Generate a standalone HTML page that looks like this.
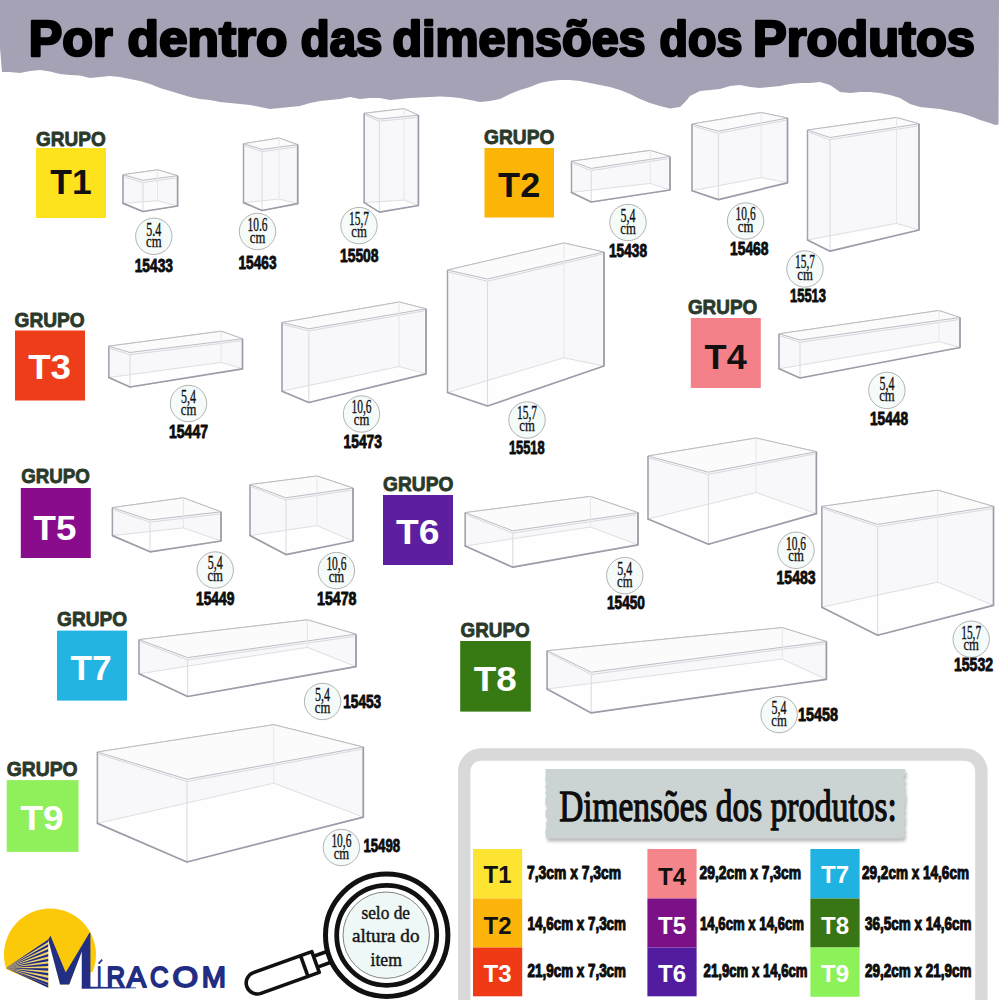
<!DOCTYPE html>
<html><head><meta charset="utf-8"><title>Produtos</title>
<style>
html,body{margin:0;padding:0;background:#fff;width:1000px;height:1000px;overflow:hidden;}
svg{position:absolute;left:0;top:0;display:block;}
</style></head><body>
<svg width="1000" height="1000" viewBox="0 0 1000 1000">
<defs><filter id="blur" x="-10%" y="-10%" width="120%" height="130%"><feGaussianBlur stdDeviation="1.6"/></filter></defs>
<polygon points="0.0,0.0 999.0,0.0 998.5,124.5 995.0,125.0 990.0,123.0 980.0,120.0 970.0,116.0 960.0,113.0 950.0,111.0 940.0,109.0 930.0,108.0 920.0,107.0 910.0,104.0 900.0,98.0 890.0,95.0 880.0,93.0 870.0,92.0 860.0,92.0 850.0,93.0 840.0,92.0 830.0,85.0 820.0,82.0 810.0,83.0 800.0,83.0 790.0,84.0 780.0,86.0 770.0,87.0 760.0,88.0 750.0,87.0 740.0,85.0 730.0,86.0 720.0,89.0 710.0,90.0 700.0,91.0 690.0,96.0 686.0,101.0 680.0,107.0 670.0,108.4 660.0,106.0 650.0,103.0 640.0,99.0 630.0,94.0 620.0,90.0 610.0,87.0 600.0,85.0 590.0,83.0 580.0,81.0 570.0,80.0 560.0,80.0 550.0,81.0 540.0,83.0 530.0,87.0 520.0,90.0 510.0,94.0 500.0,99.0 490.0,101.0 480.0,102.0 470.0,100.0 460.0,98.0 450.0,97.0 440.0,96.4 430.0,97.0 420.0,97.6 410.0,98.0 400.0,99.0 390.0,100.0 380.0,98.0 370.0,98.0 360.0,99.0 350.0,97.0 340.0,99.0 330.0,100.0 320.0,101.0 310.0,103.0 300.0,106.0 290.0,107.0 280.0,108.0 270.0,109.0 260.0,107.0 250.0,105.0 240.0,104.0 230.0,103.0 220.0,102.0 210.0,100.0 200.0,99.0 190.0,97.0 180.0,94.0 170.0,91.0 160.0,88.0 150.0,84.0 140.0,81.0 130.0,79.0 120.0,77.0 110.0,76.0 100.0,77.0 90.0,78.0 80.0,75.6 70.0,75.0 60.0,74.0 50.0,71.6 40.0,70.0 30.0,71.0 20.0,73.0 10.0,72.0 2.0,72.0 0.0,48.0" fill="#a4a2b4"/>
<text x="28.8" y="56.0" font-family='"Liberation Sans", sans-serif' font-size="50.0" font-weight="bold" fill="#000" text-anchor="start" textLength="83.8" lengthAdjust="spacingAndGlyphs" stroke="#000" stroke-width="2.60" stroke-linejoin="round">Por</text>
<text x="127.6" y="56.0" font-family='"Liberation Sans", sans-serif' font-size="50.0" font-weight="bold" fill="#000" text-anchor="start" textLength="159.8" lengthAdjust="spacingAndGlyphs" stroke="#000" stroke-width="2.60" stroke-linejoin="round">dentro</text>
<text x="300.8" y="56.0" font-family='"Liberation Sans", sans-serif' font-size="50.0" font-weight="bold" fill="#000" text-anchor="start" textLength="81.4" lengthAdjust="spacingAndGlyphs" stroke="#000" stroke-width="2.60" stroke-linejoin="round">das</text>
<text x="392.4" y="56.0" font-family='"Liberation Sans", sans-serif' font-size="50.0" font-weight="bold" fill="#000" text-anchor="start" textLength="253.2" lengthAdjust="spacingAndGlyphs" stroke="#000" stroke-width="2.60" stroke-linejoin="round">dimensões</text>
<text x="659.6" y="56.0" font-family='"Liberation Sans", sans-serif' font-size="50.0" font-weight="bold" fill="#000" text-anchor="start" textLength="82.8" lengthAdjust="spacingAndGlyphs" stroke="#000" stroke-width="2.60" stroke-linejoin="round">dos</text>
<text x="753.0" y="56.0" font-family='"Liberation Sans", sans-serif' font-size="50.0" font-weight="bold" fill="#000" text-anchor="start" textLength="222.0" lengthAdjust="spacingAndGlyphs" stroke="#000" stroke-width="2.60" stroke-linejoin="round">Produtos</text>
<polygon points="123.0,174.7 157.5,169.8 177.6,175.7 177.6,206.0 143.0,211.5 123.0,203.4" fill="#f8f8fa" stroke="#c0c0c8" stroke-width="1.0" stroke-linejoin="round"/>
<polygon points="123.0,203.4 157.5,200.7 177.6,206.0 143.0,211.5" fill="#fefefe"/>
<polygon points="123.0,174.7 157.5,169.8 177.6,175.7 143.0,180.3" fill="#fbfbfc" stroke="#bcbcc4" stroke-width="1.0" stroke-linejoin="round"/>
<polyline points="124.5,176.9 143.0,182.5 176.1,177.9" fill="none" stroke="#d4d4dc" stroke-width="0.9"/>
<line x1="143.0" y1="182.3" x2="143.0" y2="211.5" stroke="#dcdce2" stroke-width="1.1"/>
<line x1="157.5" y1="169.8" x2="157.5" y2="200.7" stroke="#e6e6ea" stroke-width="1"/>
<polyline points="123.0,203.4 157.5,200.7 177.6,206.0" fill="none" stroke="#dedee4" stroke-width="1"/>
<polyline points="123.0,174.7 123.0,203.4" fill="none" stroke="#a4a4b0" stroke-width="1.5"/>
<polyline points="177.6,175.7 177.6,206.0" fill="none" stroke="#9c9ca8" stroke-width="1.7"/>
<polyline points="123.0,203.4 143.0,211.5 177.6,206.0" fill="none" stroke="#9c9caa" stroke-width="1.7" stroke-linejoin="round" stroke-linecap="round"/>
<polygon points="243.5,143.7 279.0,138.0 297.7,144.7 297.7,203.6 262.0,210.5 243.5,202.6" fill="#f8f8fa" stroke="#c0c0c8" stroke-width="1.0" stroke-linejoin="round"/>
<polygon points="243.5,202.6 279.0,199.1 297.7,203.6 262.0,210.5" fill="#fefefe"/>
<polygon points="243.5,143.7 279.0,138.0 297.7,144.7 262.0,149.4" fill="#fbfbfc" stroke="#bcbcc4" stroke-width="1.0" stroke-linejoin="round"/>
<polyline points="245.0,145.9 262.0,151.6 296.2,146.9" fill="none" stroke="#d4d4dc" stroke-width="0.9"/>
<line x1="262.0" y1="151.4" x2="262.0" y2="210.5" stroke="#dcdce2" stroke-width="1.1"/>
<line x1="279.0" y1="138.0" x2="279.0" y2="199.1" stroke="#e6e6ea" stroke-width="1"/>
<polyline points="243.5,202.6 279.0,199.1 297.7,203.6" fill="none" stroke="#dedee4" stroke-width="1"/>
<polyline points="243.5,143.7 243.5,202.6" fill="none" stroke="#a4a4b0" stroke-width="1.5"/>
<polyline points="297.7,144.7 297.7,203.6" fill="none" stroke="#9c9ca8" stroke-width="1.7"/>
<polyline points="243.5,202.6 262.0,210.5 297.7,203.6" fill="none" stroke="#9c9caa" stroke-width="1.7" stroke-linejoin="round" stroke-linecap="round"/>
<polygon points="364.2,113.3 404.0,108.6 418.4,115.2 418.4,205.5 379.4,212.1 364.2,202.6" fill="#f8f8fa" stroke="#c0c0c8" stroke-width="1.0" stroke-linejoin="round"/>
<polygon points="364.2,202.6 404.0,200.1 418.4,205.5 379.4,212.1" fill="#fefefe"/>
<polygon points="364.2,113.3 404.0,108.6 418.4,115.2 379.4,119.0" fill="#fbfbfc" stroke="#bcbcc4" stroke-width="1.0" stroke-linejoin="round"/>
<polyline points="365.7,115.5 379.4,121.2 416.9,117.4" fill="none" stroke="#d4d4dc" stroke-width="0.9"/>
<line x1="379.4" y1="121.0" x2="379.4" y2="212.1" stroke="#dcdce2" stroke-width="1.1"/>
<line x1="404.0" y1="108.6" x2="404.0" y2="200.1" stroke="#e6e6ea" stroke-width="1"/>
<polyline points="364.2,202.6 404.0,200.1 418.4,205.5" fill="none" stroke="#dedee4" stroke-width="1"/>
<polyline points="364.2,113.3 364.2,202.6" fill="none" stroke="#a4a4b0" stroke-width="1.5"/>
<polyline points="418.4,115.2 418.4,205.5" fill="none" stroke="#9c9ca8" stroke-width="1.7"/>
<polyline points="364.2,202.6 379.4,212.1 418.4,205.5" fill="none" stroke="#9c9caa" stroke-width="1.7" stroke-linejoin="round" stroke-linecap="round"/>
<polygon points="571.5,161.2 650.3,150.4 670.0,156.4 670.0,190.0 591.2,202.0 571.5,192.4" fill="#f8f8fa" stroke="#c0c0c8" stroke-width="1.0" stroke-linejoin="round"/>
<polygon points="571.5,192.4 650.3,183.4 670.0,190.0 591.2,202.0" fill="#fefefe"/>
<polygon points="571.5,161.2 650.3,150.4 670.0,156.4 591.2,168.4" fill="#fbfbfc" stroke="#bcbcc4" stroke-width="1.0" stroke-linejoin="round"/>
<polyline points="573.0,163.4 591.2,170.6 668.5,158.6" fill="none" stroke="#d4d4dc" stroke-width="0.9"/>
<line x1="591.2" y1="170.4" x2="591.2" y2="202.0" stroke="#dcdce2" stroke-width="1.1"/>
<line x1="650.3" y1="150.4" x2="650.3" y2="183.4" stroke="#e6e6ea" stroke-width="1"/>
<polyline points="571.5,192.4 650.3,183.4 670.0,190.0" fill="none" stroke="#dedee4" stroke-width="1"/>
<polyline points="571.5,161.2 571.5,192.4" fill="none" stroke="#a4a4b0" stroke-width="1.5"/>
<polyline points="670.0,156.4 670.0,190.0" fill="none" stroke="#9c9ca8" stroke-width="1.7"/>
<polyline points="571.5,192.4 591.2,202.0 670.0,190.0" fill="none" stroke="#9c9caa" stroke-width="1.7" stroke-linejoin="round" stroke-linecap="round"/>
<polygon points="692.0,124.0 761.1,112.5 787.5,118.0 787.5,182.8 718.4,199.6 692.0,190.7" fill="#f8f8fa" stroke="#c0c0c8" stroke-width="1.0" stroke-linejoin="round"/>
<polygon points="692.0,190.7 761.1,177.6 787.5,182.8 718.4,199.6" fill="#fefefe"/>
<polygon points="692.0,124.0 761.1,112.5 787.5,118.0 718.4,131.2" fill="#fbfbfc" stroke="#bcbcc4" stroke-width="1.0" stroke-linejoin="round"/>
<polyline points="693.5,126.2 718.4,133.4 786.0,120.2" fill="none" stroke="#d4d4dc" stroke-width="0.9"/>
<line x1="718.4" y1="133.2" x2="718.4" y2="199.6" stroke="#dcdce2" stroke-width="1.1"/>
<line x1="761.1" y1="112.5" x2="761.1" y2="177.6" stroke="#e6e6ea" stroke-width="1"/>
<polyline points="692.0,190.7 761.1,177.6 787.5,182.8" fill="none" stroke="#dedee4" stroke-width="1"/>
<polyline points="692.0,124.0 692.0,190.7" fill="none" stroke="#a4a4b0" stroke-width="1.5"/>
<polyline points="787.5,118.0 787.5,182.8" fill="none" stroke="#9c9ca8" stroke-width="1.7"/>
<polyline points="692.0,190.7 718.4,199.6 787.5,182.8" fill="none" stroke="#9c9caa" stroke-width="1.7" stroke-linejoin="round" stroke-linecap="round"/>
<polygon points="807.5,130.0 896.5,117.5 919.0,123.8 919.0,230.0 830.0,251.2 807.5,240.0" fill="#f8f8fa" stroke="#c0c0c8" stroke-width="1.0" stroke-linejoin="round"/>
<polygon points="807.5,240.0 896.5,223.4 919.0,230.0 830.0,251.2" fill="#fefefe"/>
<polygon points="807.5,130.0 896.5,117.5 919.0,123.8 830.0,137.5" fill="#fbfbfc" stroke="#bcbcc4" stroke-width="1.0" stroke-linejoin="round"/>
<polyline points="809.0,132.2 830.0,139.7 917.5,126.0" fill="none" stroke="#d4d4dc" stroke-width="0.9"/>
<line x1="830.0" y1="139.5" x2="830.0" y2="251.2" stroke="#dcdce2" stroke-width="1.1"/>
<line x1="896.5" y1="117.5" x2="896.5" y2="223.4" stroke="#e6e6ea" stroke-width="1"/>
<polyline points="807.5,240.0 896.5,223.4 919.0,230.0" fill="none" stroke="#dedee4" stroke-width="1"/>
<polyline points="807.5,130.0 807.5,240.0" fill="none" stroke="#a4a4b0" stroke-width="1.5"/>
<polyline points="919.0,123.8 919.0,230.0" fill="none" stroke="#9c9ca8" stroke-width="1.7"/>
<polyline points="807.5,240.0 830.0,251.2 919.0,230.0" fill="none" stroke="#9c9caa" stroke-width="1.7" stroke-linejoin="round" stroke-linecap="round"/>
<polygon points="108.8,346.2 221.2,331.2 242.5,338.8 242.5,368.8 130.0,387.0 108.8,377.5" fill="#f8f8fa" stroke="#c0c0c8" stroke-width="1.0" stroke-linejoin="round"/>
<polygon points="108.8,377.5 221.2,362.4 242.5,368.8 130.0,387.0" fill="#fefefe"/>
<polygon points="108.8,346.2 221.2,331.2 242.5,338.8 130.0,352.5" fill="#fbfbfc" stroke="#bcbcc4" stroke-width="1.0" stroke-linejoin="round"/>
<polyline points="110.2,348.4 130.0,354.7 241.0,340.9" fill="none" stroke="#d4d4dc" stroke-width="0.9"/>
<line x1="130.0" y1="354.5" x2="130.0" y2="387.0" stroke="#dcdce2" stroke-width="1.1"/>
<line x1="221.2" y1="331.2" x2="221.2" y2="362.4" stroke="#e6e6ea" stroke-width="1"/>
<polyline points="108.8,377.5 221.2,362.4 242.5,368.8" fill="none" stroke="#dedee4" stroke-width="1"/>
<polyline points="108.8,346.2 108.8,377.5" fill="none" stroke="#a4a4b0" stroke-width="1.5"/>
<polyline points="242.5,338.8 242.5,368.8" fill="none" stroke="#9c9ca8" stroke-width="1.7"/>
<polyline points="108.8,377.5 130.0,387.0 242.5,368.8" fill="none" stroke="#9c9caa" stroke-width="1.7" stroke-linejoin="round" stroke-linecap="round"/>
<polygon points="282.0,322.5 399.2,302.0 426.0,308.8 426.0,373.8 308.8,402.5 282.0,391.2" fill="#f8f8fa" stroke="#c0c0c8" stroke-width="1.0" stroke-linejoin="round"/>
<polygon points="282.0,391.2 399.2,366.5 426.0,373.8 308.8,402.5" fill="#fefefe"/>
<polygon points="282.0,322.5 399.2,302.0 426.0,308.8 308.8,328.8" fill="#fbfbfc" stroke="#bcbcc4" stroke-width="1.0" stroke-linejoin="round"/>
<polyline points="283.5,324.7 308.8,330.9 424.5,310.9" fill="none" stroke="#d4d4dc" stroke-width="0.9"/>
<line x1="308.8" y1="330.8" x2="308.8" y2="402.5" stroke="#dcdce2" stroke-width="1.1"/>
<line x1="399.2" y1="302.0" x2="399.2" y2="366.5" stroke="#e6e6ea" stroke-width="1"/>
<polyline points="282.0,391.2 399.2,366.5 426.0,373.8" fill="none" stroke="#dedee4" stroke-width="1"/>
<polyline points="282.0,322.5 282.0,391.2" fill="none" stroke="#a4a4b0" stroke-width="1.5"/>
<polyline points="426.0,308.8 426.0,373.8" fill="none" stroke="#9c9ca8" stroke-width="1.7"/>
<polyline points="282.0,391.2 308.8,402.5 426.0,373.8" fill="none" stroke="#9c9caa" stroke-width="1.7" stroke-linejoin="round" stroke-linecap="round"/>
<polygon points="447.5,270.0 564.0,243.0 604.0,252.0 604.0,366.0 487.5,406.0 447.5,392.5" fill="#f8f8fa" stroke="#c0c0c8" stroke-width="1.0" stroke-linejoin="round"/>
<polygon points="447.5,392.5 564.0,357.8 604.0,366.0 487.5,406.0" fill="#fefefe"/>
<polygon points="447.5,270.0 564.0,243.0 604.0,252.0 487.5,279.0" fill="#fbfbfc" stroke="#bcbcc4" stroke-width="1.0" stroke-linejoin="round"/>
<polyline points="449.0,272.2 487.5,281.2 602.5,254.2" fill="none" stroke="#d4d4dc" stroke-width="0.9"/>
<line x1="487.5" y1="281.0" x2="487.5" y2="406.0" stroke="#dcdce2" stroke-width="1.1"/>
<line x1="564.0" y1="243.0" x2="564.0" y2="357.8" stroke="#e6e6ea" stroke-width="1"/>
<polyline points="447.5,392.5 564.0,357.8 604.0,366.0" fill="none" stroke="#dedee4" stroke-width="1"/>
<polyline points="447.5,270.0 447.5,392.5" fill="none" stroke="#a4a4b0" stroke-width="1.5"/>
<polyline points="604.0,252.0 604.0,366.0" fill="none" stroke="#9c9ca8" stroke-width="1.7"/>
<polyline points="447.5,392.5 487.5,406.0 604.0,366.0" fill="none" stroke="#9c9caa" stroke-width="1.7" stroke-linejoin="round" stroke-linecap="round"/>
<polygon points="779.0,333.8 939.0,310.5 960.0,317.5 960.0,347.5 800.0,378.0 779.0,368.8" fill="#f8f8fa" stroke="#c0c0c8" stroke-width="1.0" stroke-linejoin="round"/>
<polygon points="779.0,368.8 939.0,341.6 960.0,347.5 800.0,378.0" fill="#fefefe"/>
<polygon points="779.0,333.8 939.0,310.5 960.0,317.5 800.0,340.0" fill="#fbfbfc" stroke="#bcbcc4" stroke-width="1.0" stroke-linejoin="round"/>
<polyline points="780.5,335.9 800.0,342.2 958.5,319.7" fill="none" stroke="#d4d4dc" stroke-width="0.9"/>
<line x1="800.0" y1="342.0" x2="800.0" y2="378.0" stroke="#dcdce2" stroke-width="1.1"/>
<line x1="939.0" y1="310.5" x2="939.0" y2="341.6" stroke="#e6e6ea" stroke-width="1"/>
<polyline points="779.0,368.8 939.0,341.6 960.0,347.5" fill="none" stroke="#dedee4" stroke-width="1"/>
<polyline points="779.0,333.8 779.0,368.8" fill="none" stroke="#a4a4b0" stroke-width="1.5"/>
<polyline points="960.0,317.5 960.0,347.5" fill="none" stroke="#9c9ca8" stroke-width="1.7"/>
<polyline points="779.0,368.8 800.0,378.0 960.0,347.5" fill="none" stroke="#9c9caa" stroke-width="1.7" stroke-linejoin="round" stroke-linecap="round"/>
<polygon points="112.4,507.6 183.4,497.8 221.0,511.8 221.0,541.0 150.0,551.8 112.4,535.6" fill="#f8f8fa" stroke="#c0c0c8" stroke-width="1.0" stroke-linejoin="round"/>
<polygon points="112.4,535.6 183.4,527.9 221.0,541.0 150.0,551.8" fill="#fefefe"/>
<polygon points="112.4,507.6 183.4,497.8 221.0,511.8 150.0,520.0" fill="#fbfbfc" stroke="#bcbcc4" stroke-width="1.0" stroke-linejoin="round"/>
<polyline points="113.9,509.8 150.0,522.2 219.5,514.0" fill="none" stroke="#d4d4dc" stroke-width="0.9"/>
<line x1="150.0" y1="522.0" x2="150.0" y2="551.8" stroke="#dcdce2" stroke-width="1.1"/>
<line x1="183.4" y1="497.8" x2="183.4" y2="527.9" stroke="#e6e6ea" stroke-width="1"/>
<polyline points="112.4,535.6 183.4,527.9 221.0,541.0" fill="none" stroke="#dedee4" stroke-width="1"/>
<polyline points="112.4,507.6 112.4,535.6" fill="none" stroke="#a4a4b0" stroke-width="1.5"/>
<polyline points="221.0,511.8 221.0,541.0" fill="none" stroke="#9c9ca8" stroke-width="1.7"/>
<polyline points="112.4,535.6 150.0,551.8 221.0,541.0" fill="none" stroke="#9c9caa" stroke-width="1.7" stroke-linejoin="round" stroke-linecap="round"/>
<polygon points="250.0,484.6 317.0,476.0 353.0,488.0 353.0,541.0 286.0,554.6 250.0,535.6" fill="#f8f8fa" stroke="#c0c0c8" stroke-width="1.0" stroke-linejoin="round"/>
<polygon points="250.0,535.6 317.0,525.6 353.0,541.0 286.0,554.6" fill="#fefefe"/>
<polygon points="250.0,484.6 317.0,476.0 353.0,488.0 286.0,497.8" fill="#fbfbfc" stroke="#bcbcc4" stroke-width="1.0" stroke-linejoin="round"/>
<polyline points="251.5,486.8 286.0,500.0 351.5,490.2" fill="none" stroke="#d4d4dc" stroke-width="0.9"/>
<line x1="286.0" y1="499.8" x2="286.0" y2="554.6" stroke="#dcdce2" stroke-width="1.1"/>
<line x1="317.0" y1="476.0" x2="317.0" y2="525.6" stroke="#e6e6ea" stroke-width="1"/>
<polyline points="250.0,535.6 317.0,525.6 353.0,541.0" fill="none" stroke="#dedee4" stroke-width="1"/>
<polyline points="250.0,484.6 250.0,535.6" fill="none" stroke="#a4a4b0" stroke-width="1.5"/>
<polyline points="353.0,488.0 353.0,541.0" fill="none" stroke="#9c9ca8" stroke-width="1.7"/>
<polyline points="250.0,535.6 286.0,554.6 353.0,541.0" fill="none" stroke="#9c9caa" stroke-width="1.7" stroke-linejoin="round" stroke-linecap="round"/>
<polygon points="465.2,512.6 590.4,496.4 638.0,512.6 638.0,544.8 512.8,567.2 465.2,546.0" fill="#f8f8fa" stroke="#c0c0c8" stroke-width="1.0" stroke-linejoin="round"/>
<polygon points="465.2,546.0 590.4,527.0 638.0,544.8 512.8,567.2" fill="#fefefe"/>
<polygon points="465.2,512.6 590.4,496.4 638.0,512.6 512.8,530.8" fill="#fbfbfc" stroke="#bcbcc4" stroke-width="1.0" stroke-linejoin="round"/>
<polyline points="466.7,514.8 512.8,533.0 636.5,514.8" fill="none" stroke="#d4d4dc" stroke-width="0.9"/>
<line x1="512.8" y1="532.8" x2="512.8" y2="567.2" stroke="#dcdce2" stroke-width="1.1"/>
<line x1="590.4" y1="496.4" x2="590.4" y2="527.0" stroke="#e6e6ea" stroke-width="1"/>
<polyline points="465.2,546.0 590.4,527.0 638.0,544.8" fill="none" stroke="#dedee4" stroke-width="1"/>
<polyline points="465.2,512.6 465.2,546.0" fill="none" stroke="#a4a4b0" stroke-width="1.5"/>
<polyline points="638.0,512.6 638.0,544.8" fill="none" stroke="#9c9ca8" stroke-width="1.7"/>
<polyline points="465.2,546.0 512.8,567.2 638.0,544.8" fill="none" stroke="#9c9caa" stroke-width="1.7" stroke-linejoin="round" stroke-linecap="round"/>
<polygon points="648.0,456.0 756.0,438.0 816.4,451.7 816.4,513.6 708.4,544.2 648.0,519.0" fill="#f8f8fa" stroke="#c0c0c8" stroke-width="1.0" stroke-linejoin="round"/>
<polygon points="648.0,519.0 756.0,492.5 816.4,513.6 708.4,544.2" fill="#fefefe"/>
<polygon points="648.0,456.0 756.0,438.0 816.4,451.7 708.4,472.2" fill="#fbfbfc" stroke="#bcbcc4" stroke-width="1.0" stroke-linejoin="round"/>
<polyline points="649.5,458.2 708.4,474.4 814.9,453.9" fill="none" stroke="#d4d4dc" stroke-width="0.9"/>
<line x1="708.4" y1="474.2" x2="708.4" y2="544.2" stroke="#dcdce2" stroke-width="1.1"/>
<line x1="756.0" y1="438.0" x2="756.0" y2="492.5" stroke="#e6e6ea" stroke-width="1"/>
<polyline points="648.0,519.0 756.0,492.5 816.4,513.6" fill="none" stroke="#dedee4" stroke-width="1"/>
<polyline points="648.0,456.0 648.0,519.0" fill="none" stroke="#a4a4b0" stroke-width="1.5"/>
<polyline points="816.4,451.7 816.4,513.6" fill="none" stroke="#9c9ca8" stroke-width="1.7"/>
<polyline points="648.0,519.0 708.4,544.2 816.4,513.6" fill="none" stroke="#9c9caa" stroke-width="1.7" stroke-linejoin="round" stroke-linecap="round"/>
<polygon points="821.8,506.4 937.7,490.2 993.5,506.4 993.5,605.4 877.6,635.3 821.8,607.2" fill="#f8f8fa" stroke="#c0c0c8" stroke-width="1.0" stroke-linejoin="round"/>
<polygon points="821.8,607.2 937.7,582.2 993.5,605.4 877.6,635.3" fill="#fefefe"/>
<polygon points="821.8,506.4 937.7,490.2 993.5,506.4 877.6,524.4" fill="#fbfbfc" stroke="#bcbcc4" stroke-width="1.0" stroke-linejoin="round"/>
<polyline points="823.3,508.6 877.6,526.6 992.0,508.6" fill="none" stroke="#d4d4dc" stroke-width="0.9"/>
<line x1="877.6" y1="526.4" x2="877.6" y2="635.3" stroke="#dcdce2" stroke-width="1.1"/>
<line x1="937.7" y1="490.2" x2="937.7" y2="582.2" stroke="#e6e6ea" stroke-width="1"/>
<polyline points="821.8,607.2 937.7,582.2 993.5,605.4" fill="none" stroke="#dedee4" stroke-width="1"/>
<polyline points="821.8,506.4 821.8,607.2" fill="none" stroke="#a4a4b0" stroke-width="1.5"/>
<polyline points="993.5,506.4 993.5,605.4" fill="none" stroke="#9c9ca8" stroke-width="1.7"/>
<polyline points="821.8,607.2 877.6,635.3 993.5,605.4" fill="none" stroke="#9c9caa" stroke-width="1.7" stroke-linejoin="round" stroke-linecap="round"/>
<polygon points="139.0,639.6 307.4,619.8 356.0,634.2 356.0,666.6 187.6,696.5 139.0,673.8" fill="#f8f8fa" stroke="#c0c0c8" stroke-width="1.0" stroke-linejoin="round"/>
<polygon points="139.0,673.8 307.4,647.4 356.0,666.6 187.6,696.5" fill="#fefefe"/>
<polygon points="139.0,639.6 307.4,619.8 356.0,634.2 187.6,657.6" fill="#fbfbfc" stroke="#bcbcc4" stroke-width="1.0" stroke-linejoin="round"/>
<polyline points="140.5,641.8 187.6,659.8 354.5,636.4" fill="none" stroke="#d4d4dc" stroke-width="0.9"/>
<line x1="187.6" y1="659.6" x2="187.6" y2="696.5" stroke="#dcdce2" stroke-width="1.1"/>
<line x1="307.4" y1="619.8" x2="307.4" y2="647.4" stroke="#e6e6ea" stroke-width="1"/>
<polyline points="139.0,673.8 307.4,647.4 356.0,666.6" fill="none" stroke="#dedee4" stroke-width="1"/>
<polyline points="139.0,639.6 139.0,673.8" fill="none" stroke="#a4a4b0" stroke-width="1.5"/>
<polyline points="356.0,634.2 356.0,666.6" fill="none" stroke="#9c9ca8" stroke-width="1.7"/>
<polyline points="139.0,673.8 187.6,696.5 356.0,666.6" fill="none" stroke="#9c9caa" stroke-width="1.7" stroke-linejoin="round" stroke-linecap="round"/>
<polygon points="547.1,650.7 782.3,627.6 826.4,641.5 826.4,679.3 591.2,712.9 547.1,689.0" fill="#f8f8fa" stroke="#c0c0c8" stroke-width="1.0" stroke-linejoin="round"/>
<polygon points="547.1,689.0 782.3,659.1 826.4,679.3 591.2,712.9" fill="#fefefe"/>
<polygon points="547.1,650.7 782.3,627.6 826.4,641.5 591.2,672.2" fill="#fbfbfc" stroke="#bcbcc4" stroke-width="1.0" stroke-linejoin="round"/>
<polyline points="548.6,652.9 591.2,674.4 824.9,643.7" fill="none" stroke="#d4d4dc" stroke-width="0.9"/>
<line x1="591.2" y1="674.2" x2="591.2" y2="712.9" stroke="#dcdce2" stroke-width="1.1"/>
<line x1="782.3" y1="627.6" x2="782.3" y2="659.1" stroke="#e6e6ea" stroke-width="1"/>
<polyline points="547.1,689.0 782.3,659.1 826.4,679.3" fill="none" stroke="#dedee4" stroke-width="1"/>
<polyline points="547.1,650.7 547.1,689.0" fill="none" stroke="#a4a4b0" stroke-width="1.5"/>
<polyline points="826.4,641.5 826.4,679.3" fill="none" stroke="#9c9ca8" stroke-width="1.7"/>
<polyline points="547.1,689.0 591.2,712.9 826.4,679.3" fill="none" stroke="#9c9caa" stroke-width="1.7" stroke-linejoin="round" stroke-linecap="round"/>
<polygon points="97.4,752.0 273.8,724.7 363.3,747.0 363.3,817.1 186.9,862.0 97.4,823.4" fill="#f8f8fa" stroke="#c0c0c8" stroke-width="1.0" stroke-linejoin="round"/>
<polygon points="97.4,823.4 273.8,783.2 363.3,817.1 186.9,862.0" fill="#fefefe"/>
<polygon points="97.4,752.0 273.8,724.7 363.3,747.0 186.9,779.3" fill="#fbfbfc" stroke="#bcbcc4" stroke-width="1.0" stroke-linejoin="round"/>
<polyline points="98.9,754.2 186.9,781.5 361.8,749.2" fill="none" stroke="#d4d4dc" stroke-width="0.9"/>
<line x1="186.9" y1="781.3" x2="186.9" y2="862.0" stroke="#dcdce2" stroke-width="1.1"/>
<line x1="273.8" y1="724.7" x2="273.8" y2="783.2" stroke="#e6e6ea" stroke-width="1"/>
<polyline points="97.4,823.4 273.8,783.2 363.3,817.1" fill="none" stroke="#dedee4" stroke-width="1"/>
<polyline points="97.4,752.0 97.4,823.4" fill="none" stroke="#a4a4b0" stroke-width="1.5"/>
<polyline points="363.3,747.0 363.3,817.1" fill="none" stroke="#9c9ca8" stroke-width="1.7"/>
<polyline points="97.4,823.4 186.9,862.0 363.3,817.1" fill="none" stroke="#9c9caa" stroke-width="1.7" stroke-linejoin="round" stroke-linecap="round"/>
<circle cx="153.8" cy="236.3" r="18.2" fill="#f5fbf8" stroke="#a0a0a0" stroke-width="0.8"/>
<text x="153.8" y="235.7" font-family='"Liberation Serif", serif' font-size="18.0" font-weight="normal" fill="#111" text-anchor="middle" textLength="15.0" lengthAdjust="spacingAndGlyphs" stroke="#111" stroke-width="0.35" stroke-linejoin="round">5.4</text>
<text x="153.8" y="247.3" font-family='"Liberation Serif", serif' font-size="16.5" font-weight="normal" fill="#111" text-anchor="middle" textLength="15.5" lengthAdjust="spacingAndGlyphs" stroke="#111" stroke-width="0.30" stroke-linejoin="round">cm</text>
<text x="134.7" y="271.7" font-family='"Liberation Sans", sans-serif' font-size="18.6" font-weight="bold" fill="#0d0d0d" text-anchor="start" textLength="38.3" lengthAdjust="spacingAndGlyphs" stroke="#0d0d0d" stroke-width="0.90" stroke-linejoin="round">15433</text>
<circle cx="257.5" cy="231.5" r="18.2" fill="#f5fbf8" stroke="#a0a0a0" stroke-width="0.8"/>
<text x="257.5" y="230.9" font-family='"Liberation Serif", serif' font-size="18.0" font-weight="normal" fill="#111" text-anchor="middle" textLength="20.0" lengthAdjust="spacingAndGlyphs" stroke="#111" stroke-width="0.35" stroke-linejoin="round">10.6</text>
<text x="257.5" y="242.5" font-family='"Liberation Serif", serif' font-size="16.5" font-weight="normal" fill="#111" text-anchor="middle" textLength="15.5" lengthAdjust="spacingAndGlyphs" stroke="#111" stroke-width="0.30" stroke-linejoin="round">cm</text>
<text x="238.5" y="269.0" font-family='"Liberation Sans", sans-serif' font-size="18.6" font-weight="bold" fill="#0d0d0d" text-anchor="start" textLength="38.0" lengthAdjust="spacingAndGlyphs" stroke="#0d0d0d" stroke-width="0.90" stroke-linejoin="round">15463</text>
<circle cx="359.0" cy="225.6" r="18.2" fill="#f5fbf8" stroke="#a0a0a0" stroke-width="0.8"/>
<text x="359.0" y="225.0" font-family='"Liberation Serif", serif' font-size="18.0" font-weight="normal" fill="#111" text-anchor="middle" textLength="20.0" lengthAdjust="spacingAndGlyphs" stroke="#111" stroke-width="0.35" stroke-linejoin="round">15,7</text>
<text x="359.0" y="236.6" font-family='"Liberation Serif", serif' font-size="16.5" font-weight="normal" fill="#111" text-anchor="middle" textLength="15.5" lengthAdjust="spacingAndGlyphs" stroke="#111" stroke-width="0.30" stroke-linejoin="round">cm</text>
<text x="340.0" y="262.0" font-family='"Liberation Sans", sans-serif' font-size="18.6" font-weight="bold" fill="#0d0d0d" text-anchor="start" textLength="38.5" lengthAdjust="spacingAndGlyphs" stroke="#0d0d0d" stroke-width="0.90" stroke-linejoin="round">15508</text>
<circle cx="628.0" cy="222.5" r="18.2" fill="#f5fbf8" stroke="#a0a0a0" stroke-width="0.8"/>
<text x="628.0" y="221.9" font-family='"Liberation Serif", serif' font-size="18.0" font-weight="normal" fill="#111" text-anchor="middle" textLength="15.0" lengthAdjust="spacingAndGlyphs" stroke="#111" stroke-width="0.35" stroke-linejoin="round">5,4</text>
<text x="628.0" y="233.5" font-family='"Liberation Serif", serif' font-size="16.5" font-weight="normal" fill="#111" text-anchor="middle" textLength="15.5" lengthAdjust="spacingAndGlyphs" stroke="#111" stroke-width="0.30" stroke-linejoin="round">cm</text>
<text x="609.0" y="257.0" font-family='"Liberation Sans", sans-serif' font-size="18.6" font-weight="bold" fill="#0d0d0d" text-anchor="start" textLength="38.0" lengthAdjust="spacingAndGlyphs" stroke="#0d0d0d" stroke-width="0.90" stroke-linejoin="round">15438</text>
<circle cx="745.6" cy="221.0" r="18.2" fill="#f5fbf8" stroke="#a0a0a0" stroke-width="0.8"/>
<text x="745.6" y="220.4" font-family='"Liberation Serif", serif' font-size="18.0" font-weight="normal" fill="#111" text-anchor="middle" textLength="20.0" lengthAdjust="spacingAndGlyphs" stroke="#111" stroke-width="0.35" stroke-linejoin="round">10,6</text>
<text x="745.6" y="232.0" font-family='"Liberation Serif", serif' font-size="16.5" font-weight="normal" fill="#111" text-anchor="middle" textLength="15.5" lengthAdjust="spacingAndGlyphs" stroke="#111" stroke-width="0.30" stroke-linejoin="round">cm</text>
<text x="730.0" y="255.0" font-family='"Liberation Sans", sans-serif' font-size="18.6" font-weight="bold" fill="#0d0d0d" text-anchor="start" textLength="38.5" lengthAdjust="spacingAndGlyphs" stroke="#0d0d0d" stroke-width="0.90" stroke-linejoin="round">15468</text>
<circle cx="805.0" cy="269.0" r="18.2" fill="#f5fbf8" stroke="#a0a0a0" stroke-width="0.8"/>
<text x="805.0" y="268.4" font-family='"Liberation Serif", serif' font-size="18.0" font-weight="normal" fill="#111" text-anchor="middle" textLength="20.0" lengthAdjust="spacingAndGlyphs" stroke="#111" stroke-width="0.35" stroke-linejoin="round">15,7</text>
<text x="805.0" y="280.0" font-family='"Liberation Serif", serif' font-size="16.5" font-weight="normal" fill="#111" text-anchor="middle" textLength="15.5" lengthAdjust="spacingAndGlyphs" stroke="#111" stroke-width="0.30" stroke-linejoin="round">cm</text>
<text x="790.0" y="302.0" font-family='"Liberation Sans", sans-serif' font-size="18.6" font-weight="bold" fill="#0d0d0d" text-anchor="start" textLength="36.0" lengthAdjust="spacingAndGlyphs" stroke="#0d0d0d" stroke-width="0.90" stroke-linejoin="round">15513</text>
<circle cx="188.5" cy="403.5" r="18.2" fill="#f5fbf8" stroke="#a0a0a0" stroke-width="0.8"/>
<text x="188.5" y="402.9" font-family='"Liberation Serif", serif' font-size="18.0" font-weight="normal" fill="#111" text-anchor="middle" textLength="15.0" lengthAdjust="spacingAndGlyphs" stroke="#111" stroke-width="0.35" stroke-linejoin="round">5,4</text>
<text x="188.5" y="414.5" font-family='"Liberation Serif", serif' font-size="16.5" font-weight="normal" fill="#111" text-anchor="middle" textLength="15.5" lengthAdjust="spacingAndGlyphs" stroke="#111" stroke-width="0.30" stroke-linejoin="round">cm</text>
<text x="169.0" y="438.0" font-family='"Liberation Sans", sans-serif' font-size="18.6" font-weight="bold" fill="#0d0d0d" text-anchor="start" textLength="39.0" lengthAdjust="spacingAndGlyphs" stroke="#0d0d0d" stroke-width="0.90" stroke-linejoin="round">15447</text>
<circle cx="361.5" cy="414.0" r="18.2" fill="#f5fbf8" stroke="#a0a0a0" stroke-width="0.8"/>
<text x="361.5" y="413.4" font-family='"Liberation Serif", serif' font-size="18.0" font-weight="normal" fill="#111" text-anchor="middle" textLength="20.0" lengthAdjust="spacingAndGlyphs" stroke="#111" stroke-width="0.35" stroke-linejoin="round">10,6</text>
<text x="361.5" y="425.0" font-family='"Liberation Serif", serif' font-size="16.5" font-weight="normal" fill="#111" text-anchor="middle" textLength="15.5" lengthAdjust="spacingAndGlyphs" stroke="#111" stroke-width="0.30" stroke-linejoin="round">cm</text>
<text x="343.5" y="448.0" font-family='"Liberation Sans", sans-serif' font-size="18.6" font-weight="bold" fill="#0d0d0d" text-anchor="start" textLength="38.5" lengthAdjust="spacingAndGlyphs" stroke="#0d0d0d" stroke-width="0.90" stroke-linejoin="round">15473</text>
<circle cx="527.0" cy="420.0" r="18.2" fill="#f5fbf8" stroke="#a0a0a0" stroke-width="0.8"/>
<text x="527.0" y="419.4" font-family='"Liberation Serif", serif' font-size="18.0" font-weight="normal" fill="#111" text-anchor="middle" textLength="20.0" lengthAdjust="spacingAndGlyphs" stroke="#111" stroke-width="0.35" stroke-linejoin="round">15,7</text>
<text x="527.0" y="431.0" font-family='"Liberation Serif", serif' font-size="16.5" font-weight="normal" fill="#111" text-anchor="middle" textLength="15.5" lengthAdjust="spacingAndGlyphs" stroke="#111" stroke-width="0.30" stroke-linejoin="round">cm</text>
<text x="509.0" y="453.8" font-family='"Liberation Sans", sans-serif' font-size="18.6" font-weight="bold" fill="#0d0d0d" text-anchor="start" textLength="35.6" lengthAdjust="spacingAndGlyphs" stroke="#0d0d0d" stroke-width="0.90" stroke-linejoin="round">15518</text>
<circle cx="886.9" cy="390.4" r="18.2" fill="#f5fbf8" stroke="#a0a0a0" stroke-width="0.8"/>
<text x="886.9" y="389.8" font-family='"Liberation Serif", serif' font-size="18.0" font-weight="normal" fill="#111" text-anchor="middle" textLength="15.0" lengthAdjust="spacingAndGlyphs" stroke="#111" stroke-width="0.35" stroke-linejoin="round">5,4</text>
<text x="886.9" y="401.4" font-family='"Liberation Serif", serif' font-size="16.5" font-weight="normal" fill="#111" text-anchor="middle" textLength="15.5" lengthAdjust="spacingAndGlyphs" stroke="#111" stroke-width="0.30" stroke-linejoin="round">cm</text>
<text x="870.0" y="424.5" font-family='"Liberation Sans", sans-serif' font-size="18.6" font-weight="bold" fill="#0d0d0d" text-anchor="start" textLength="38.0" lengthAdjust="spacingAndGlyphs" stroke="#0d0d0d" stroke-width="0.90" stroke-linejoin="round">15448</text>
<circle cx="215.2" cy="570.0" r="18.2" fill="#f5fbf8" stroke="#a0a0a0" stroke-width="0.8"/>
<text x="215.2" y="569.4" font-family='"Liberation Serif", serif' font-size="18.0" font-weight="normal" fill="#111" text-anchor="middle" textLength="15.0" lengthAdjust="spacingAndGlyphs" stroke="#111" stroke-width="0.35" stroke-linejoin="round">5,4</text>
<text x="215.2" y="581.0" font-family='"Liberation Serif", serif' font-size="16.5" font-weight="normal" fill="#111" text-anchor="middle" textLength="15.5" lengthAdjust="spacingAndGlyphs" stroke="#111" stroke-width="0.30" stroke-linejoin="round">cm</text>
<text x="196.0" y="605.0" font-family='"Liberation Sans", sans-serif' font-size="18.6" font-weight="bold" fill="#0d0d0d" text-anchor="start" textLength="38.4" lengthAdjust="spacingAndGlyphs" stroke="#0d0d0d" stroke-width="0.90" stroke-linejoin="round">15449</text>
<circle cx="336.4" cy="570.6" r="18.2" fill="#f5fbf8" stroke="#a0a0a0" stroke-width="0.8"/>
<text x="336.4" y="570.0" font-family='"Liberation Serif", serif' font-size="18.0" font-weight="normal" fill="#111" text-anchor="middle" textLength="20.0" lengthAdjust="spacingAndGlyphs" stroke="#111" stroke-width="0.35" stroke-linejoin="round">10,6</text>
<text x="336.4" y="581.6" font-family='"Liberation Serif", serif' font-size="16.5" font-weight="normal" fill="#111" text-anchor="middle" textLength="15.5" lengthAdjust="spacingAndGlyphs" stroke="#111" stroke-width="0.30" stroke-linejoin="round">cm</text>
<text x="317.0" y="605.0" font-family='"Liberation Sans", sans-serif' font-size="18.6" font-weight="bold" fill="#0d0d0d" text-anchor="start" textLength="39.5" lengthAdjust="spacingAndGlyphs" stroke="#0d0d0d" stroke-width="0.90" stroke-linejoin="round">15478</text>
<circle cx="624.8" cy="575.6" r="18.2" fill="#f5fbf8" stroke="#a0a0a0" stroke-width="0.8"/>
<text x="624.8" y="575.0" font-family='"Liberation Serif", serif' font-size="18.0" font-weight="normal" fill="#111" text-anchor="middle" textLength="15.0" lengthAdjust="spacingAndGlyphs" stroke="#111" stroke-width="0.35" stroke-linejoin="round">5,4</text>
<text x="624.8" y="586.6" font-family='"Liberation Serif", serif' font-size="16.5" font-weight="normal" fill="#111" text-anchor="middle" textLength="15.5" lengthAdjust="spacingAndGlyphs" stroke="#111" stroke-width="0.30" stroke-linejoin="round">cm</text>
<text x="607.0" y="609.2" font-family='"Liberation Sans", sans-serif' font-size="18.6" font-weight="bold" fill="#0d0d0d" text-anchor="start" textLength="37.9" lengthAdjust="spacingAndGlyphs" stroke="#0d0d0d" stroke-width="0.90" stroke-linejoin="round">15450</text>
<circle cx="796.0" cy="550.3" r="18.2" fill="#f5fbf8" stroke="#a0a0a0" stroke-width="0.8"/>
<text x="796.0" y="549.7" font-family='"Liberation Serif", serif' font-size="18.0" font-weight="normal" fill="#111" text-anchor="middle" textLength="20.0" lengthAdjust="spacingAndGlyphs" stroke="#111" stroke-width="0.35" stroke-linejoin="round">10,6</text>
<text x="796.0" y="561.3" font-family='"Liberation Serif", serif' font-size="16.5" font-weight="normal" fill="#111" text-anchor="middle" textLength="15.5" lengthAdjust="spacingAndGlyphs" stroke="#111" stroke-width="0.30" stroke-linejoin="round">cm</text>
<text x="776.5" y="583.8" font-family='"Liberation Sans", sans-serif' font-size="18.6" font-weight="bold" fill="#0d0d0d" text-anchor="start" textLength="39.1" lengthAdjust="spacingAndGlyphs" stroke="#0d0d0d" stroke-width="0.90" stroke-linejoin="round">15483</text>
<circle cx="971.2" cy="639.2" r="18.2" fill="#f5fbf8" stroke="#a0a0a0" stroke-width="0.8"/>
<text x="971.2" y="638.6" font-family='"Liberation Serif", serif' font-size="18.0" font-weight="normal" fill="#111" text-anchor="middle" textLength="20.0" lengthAdjust="spacingAndGlyphs" stroke="#111" stroke-width="0.35" stroke-linejoin="round">15,7</text>
<text x="971.2" y="650.2" font-family='"Liberation Serif", serif' font-size="16.5" font-weight="normal" fill="#111" text-anchor="middle" textLength="15.5" lengthAdjust="spacingAndGlyphs" stroke="#111" stroke-width="0.30" stroke-linejoin="round">cm</text>
<text x="954.0" y="671.3" font-family='"Liberation Sans", sans-serif' font-size="18.6" font-weight="bold" fill="#0d0d0d" text-anchor="start" textLength="39.0" lengthAdjust="spacingAndGlyphs" stroke="#0d0d0d" stroke-width="0.90" stroke-linejoin="round">15532</text>
<circle cx="322.6" cy="701.5" r="18.2" fill="#f5fbf8" stroke="#a0a0a0" stroke-width="0.8"/>
<text x="322.6" y="700.9" font-family='"Liberation Serif", serif' font-size="18.0" font-weight="normal" fill="#111" text-anchor="middle" textLength="15.0" lengthAdjust="spacingAndGlyphs" stroke="#111" stroke-width="0.35" stroke-linejoin="round">5,4</text>
<text x="322.6" y="712.5" font-family='"Liberation Serif", serif' font-size="16.5" font-weight="normal" fill="#111" text-anchor="middle" textLength="15.5" lengthAdjust="spacingAndGlyphs" stroke="#111" stroke-width="0.30" stroke-linejoin="round">cm</text>
<text x="343.2" y="708.0" font-family='"Liberation Sans", sans-serif' font-size="18.6" font-weight="bold" fill="#0d0d0d" text-anchor="start" textLength="38.0" lengthAdjust="spacingAndGlyphs" stroke="#0d0d0d" stroke-width="0.90" stroke-linejoin="round">15453</text>
<circle cx="779.1" cy="714.6" r="18.2" fill="#f5fbf8" stroke="#a0a0a0" stroke-width="0.8"/>
<text x="779.1" y="714.0" font-family='"Liberation Serif", serif' font-size="18.0" font-weight="normal" fill="#111" text-anchor="middle" textLength="15.0" lengthAdjust="spacingAndGlyphs" stroke="#111" stroke-width="0.35" stroke-linejoin="round">5,4</text>
<text x="779.1" y="725.6" font-family='"Liberation Serif", serif' font-size="16.5" font-weight="normal" fill="#111" text-anchor="middle" textLength="15.5" lengthAdjust="spacingAndGlyphs" stroke="#111" stroke-width="0.30" stroke-linejoin="round">cm</text>
<text x="798.0" y="721.3" font-family='"Liberation Sans", sans-serif' font-size="18.6" font-weight="bold" fill="#0d0d0d" text-anchor="start" textLength="40.0" lengthAdjust="spacingAndGlyphs" stroke="#0d0d0d" stroke-width="0.90" stroke-linejoin="round">15458</text>
<circle cx="341.4" cy="847.5" r="18.2" fill="#f5fbf8" stroke="#a0a0a0" stroke-width="0.8"/>
<text x="341.4" y="846.9" font-family='"Liberation Serif", serif' font-size="18.0" font-weight="normal" fill="#111" text-anchor="middle" textLength="20.0" lengthAdjust="spacingAndGlyphs" stroke="#111" stroke-width="0.35" stroke-linejoin="round">10,6</text>
<text x="341.4" y="858.5" font-family='"Liberation Serif", serif' font-size="16.5" font-weight="normal" fill="#111" text-anchor="middle" textLength="15.5" lengthAdjust="spacingAndGlyphs" stroke="#111" stroke-width="0.30" stroke-linejoin="round">cm</text>
<text x="363.5" y="852.0" font-family='"Liberation Sans", sans-serif' font-size="18.6" font-weight="bold" fill="#0d0d0d" text-anchor="start" textLength="36.5" lengthAdjust="spacingAndGlyphs" stroke="#0d0d0d" stroke-width="0.90" stroke-linejoin="round">15498</text>
<text x="36.1" y="145.8" font-family='"Liberation Sans", sans-serif' font-size="20.0" font-weight="bold" fill="#2a392a" text-anchor="start" textLength="69.6" lengthAdjust="spacingAndGlyphs" stroke="#2a392a" stroke-width="0.80" stroke-linejoin="round">GRUPO</text>
<rect x="36.0" y="148.0" width="70.0" height="70.0" fill="#fde21e"/>
<text x="50.3" y="194.0" font-family='"Liberation Sans", sans-serif' font-size="34.5" font-weight="bold" fill="#111" text-anchor="start" textLength="41.4" lengthAdjust="spacingAndGlyphs">T1</text>
<text x="484.1" y="144.1" font-family='"Liberation Sans", sans-serif' font-size="20.0" font-weight="bold" fill="#2a392a" text-anchor="start" textLength="70.3" lengthAdjust="spacingAndGlyphs" stroke="#2a392a" stroke-width="0.80" stroke-linejoin="round">GRUPO</text>
<rect x="484.5" y="148.0" width="69.5" height="69.5" fill="#fcb506"/>
<text x="498.1" y="197.0" font-family='"Liberation Sans", sans-serif' font-size="34.5" font-weight="bold" fill="#111" text-anchor="start" textLength="42.1" lengthAdjust="spacingAndGlyphs">T2</text>
<text x="14.6" y="327.1" font-family='"Liberation Sans", sans-serif' font-size="20.0" font-weight="bold" fill="#2a392a" text-anchor="start" textLength="70.1" lengthAdjust="spacingAndGlyphs" stroke="#2a392a" stroke-width="0.80" stroke-linejoin="round">GRUPO</text>
<rect x="15.0" y="330.5" width="70.0" height="70.0" fill="#ee3d1b"/>
<text x="28.2" y="379.1" font-family='"Liberation Sans", sans-serif' font-size="35.0" font-weight="bold" fill="#fff" text-anchor="start" textLength="42.8" lengthAdjust="spacingAndGlyphs">T3</text>
<text x="687.9" y="314.0" font-family='"Liberation Sans", sans-serif' font-size="20.0" font-weight="bold" fill="#2a392a" text-anchor="start" textLength="69.3" lengthAdjust="spacingAndGlyphs" stroke="#2a392a" stroke-width="0.80" stroke-linejoin="round">GRUPO</text>
<rect x="690.8" y="318.0" width="70.0" height="70.0" fill="#f4818a"/>
<text x="704.6" y="369.2" font-family='"Liberation Sans", sans-serif' font-size="34.5" font-weight="bold" fill="#111" text-anchor="start" textLength="42.1" lengthAdjust="spacingAndGlyphs">T4</text>
<text x="21.2" y="482.9" font-family='"Liberation Sans", sans-serif' font-size="20.0" font-weight="bold" fill="#2a392a" text-anchor="start" textLength="68.7" lengthAdjust="spacingAndGlyphs" stroke="#2a392a" stroke-width="0.80" stroke-linejoin="round">GRUPO</text>
<rect x="20.8" y="488.0" width="70.0" height="70.0" fill="#880c8b"/>
<text x="33.5" y="539.5" font-family='"Liberation Sans", sans-serif' font-size="35.0" font-weight="bold" fill="#fff" text-anchor="start" textLength="42.9" lengthAdjust="spacingAndGlyphs">T5</text>
<text x="383.1" y="491.3" font-family='"Liberation Sans", sans-serif' font-size="20.0" font-weight="bold" fill="#2a392a" text-anchor="start" textLength="70.2" lengthAdjust="spacingAndGlyphs" stroke="#2a392a" stroke-width="0.80" stroke-linejoin="round">GRUPO</text>
<rect x="383.0" y="495.0" width="70.0" height="70.0" fill="#5b1fa0"/>
<text x="396.1" y="544.3" font-family='"Liberation Sans", sans-serif' font-size="35.0" font-weight="bold" fill="#fff" text-anchor="start" textLength="43.4" lengthAdjust="spacingAndGlyphs">T6</text>
<text x="57.1" y="626.3" font-family='"Liberation Sans", sans-serif' font-size="20.0" font-weight="bold" fill="#2a392a" text-anchor="start" textLength="70.0" lengthAdjust="spacingAndGlyphs" stroke="#2a392a" stroke-width="0.80" stroke-linejoin="round">GRUPO</text>
<rect x="57.0" y="630.6" width="70.0" height="70.0" fill="#23b4e2"/>
<text x="70.4" y="679.5" font-family='"Liberation Sans", sans-serif' font-size="35.0" font-weight="bold" fill="#fff" text-anchor="start" textLength="41.3" lengthAdjust="spacingAndGlyphs">T7</text>
<text x="460.6" y="637.1" font-family='"Liberation Sans", sans-serif' font-size="20.0" font-weight="bold" fill="#2a392a" text-anchor="start" textLength="69.1" lengthAdjust="spacingAndGlyphs" stroke="#2a392a" stroke-width="0.80" stroke-linejoin="round">GRUPO</text>
<rect x="460.2" y="641.0" width="70.6" height="70.6" fill="#377912"/>
<text x="473.7" y="690.7" font-family='"Liberation Sans", sans-serif' font-size="35.0" font-weight="bold" fill="#fff" text-anchor="start" textLength="42.9" lengthAdjust="spacingAndGlyphs">T8</text>
<text x="6.7" y="776.3" font-family='"Liberation Sans", sans-serif' font-size="20.0" font-weight="bold" fill="#2a392a" text-anchor="start" textLength="70.9" lengthAdjust="spacingAndGlyphs" stroke="#2a392a" stroke-width="0.80" stroke-linejoin="round">GRUPO</text>
<rect x="6.7" y="780.1" width="71.8" height="71.8" fill="#90f05c"/>
<text x="20.5" y="830.0" font-family='"Liberation Sans", sans-serif' font-size="35.0" font-weight="bold" fill="#fff" text-anchor="start" textLength="43.2" lengthAdjust="spacingAndGlyphs">T9</text>
<rect x="464.2" y="754.5" width="517.2" height="300" rx="17" ry="17" fill="#ffffff" stroke="#d9d9d9" stroke-width="12.4"/>
<polygon points="545.3,769.0 545.5,772.0 545.7,775.0 545.2,778.0 545.5,781.0 546.2,784.0 545.1,787.0 546.6,790.0 545.0,793.0 546.4,796.0 545.1,799.0 545.3,802.0 545.4,805.0 547.6,808.0 545.1,811.0 545.7,814.0 545.6,817.0 548.0,820.0 545.6,823.0 546.3,826.0 546.0,829.0 545.1,832.0 545.9,835.0 545.9,838.0 546.0,838.5 905.0,838.5 902.7,838.0 905.0,835.0 903.7,832.0 905.3,829.0 903.3,826.0 904.7,823.0 904.5,820.0 905.0,817.0 903.6,814.0 905.2,811.0 904.1,808.0 904.8,805.0 904.8,802.0 905.4,799.0 905.3,796.0 905.0,793.0 904.3,790.0 904.9,787.0 903.6,784.0 905.3,781.0 902.9,778.0 905.2,775.0 905.1,772.0 905.4,769.0" fill="#6a6a6a" opacity="0.45" transform="translate(1.5,3)" filter="url(#blur)"/>
<polygon points="545.3,769.0 545.5,772.0 545.7,775.0 545.2,778.0 545.5,781.0 546.2,784.0 545.1,787.0 546.6,790.0 545.0,793.0 546.4,796.0 545.1,799.0 545.3,802.0 545.4,805.0 547.6,808.0 545.1,811.0 545.7,814.0 545.6,817.0 548.0,820.0 545.6,823.0 546.3,826.0 546.0,829.0 545.1,832.0 545.9,835.0 545.9,838.0 546.0,838.5 905.0,838.5 902.7,838.0 905.0,835.0 903.7,832.0 905.3,829.0 903.3,826.0 904.7,823.0 904.5,820.0 905.0,817.0 903.6,814.0 905.2,811.0 904.1,808.0 904.8,805.0 904.8,802.0 905.4,799.0 905.3,796.0 905.0,793.0 904.3,790.0 904.9,787.0 903.6,784.0 905.3,781.0 902.9,778.0 905.2,775.0 905.1,772.0 905.4,769.0" fill="#ccd4d3"/>
<text x="559.2" y="820.5" font-family='"Liberation Serif", serif' font-size="44.0" font-weight="normal" fill="#0d0d0d" text-anchor="start" textLength="337.5" lengthAdjust="spacingAndGlyphs" stroke="#0d0d0d" stroke-width="1.30" stroke-linejoin="round">Dimensões dos produtos:</text>
<rect x="473.0" y="849.0" width="49.2" height="49.5" fill="#fde433"/>
<text x="497.6" y="883.0" font-family='"Liberation Sans", sans-serif' font-size="24.5" font-weight="bold" fill="#111" text-anchor="middle" textLength="28.0" lengthAdjust="spacingAndGlyphs">T1</text>
<text x="527.0" y="878.5" font-family='"Liberation Sans", sans-serif' font-size="18.0" font-weight="bold" fill="#0d0d0d" text-anchor="start" textLength="94.0" lengthAdjust="spacingAndGlyphs" stroke="#0d0d0d" stroke-width="1.10" stroke-linejoin="round">7,3cm x 7,3cm</text>
<rect x="473.0" y="898.5" width="49.2" height="49.0" fill="#fcb40a"/>
<text x="497.6" y="933.5" font-family='"Liberation Sans", sans-serif' font-size="24.5" font-weight="bold" fill="#111" text-anchor="middle" textLength="28.0" lengthAdjust="spacingAndGlyphs">T2</text>
<text x="527.6" y="930.3" font-family='"Liberation Sans", sans-serif' font-size="18.0" font-weight="bold" fill="#0d0d0d" text-anchor="start" textLength="98.4" lengthAdjust="spacingAndGlyphs" stroke="#0d0d0d" stroke-width="1.10" stroke-linejoin="round">14,6cm x 7,3cm</text>
<rect x="473.0" y="947.5" width="49.2" height="48.8" fill="#f03a16"/>
<text x="497.6" y="982.3" font-family='"Liberation Sans", sans-serif' font-size="24.5" font-weight="bold" fill="#fff" text-anchor="middle" textLength="28.0" lengthAdjust="spacingAndGlyphs">T3</text>
<text x="527.6" y="977.0" font-family='"Liberation Sans", sans-serif' font-size="18.0" font-weight="bold" fill="#0d0d0d" text-anchor="start" textLength="98.4" lengthAdjust="spacingAndGlyphs" stroke="#0d0d0d" stroke-width="1.10" stroke-linejoin="round">21,9cm x 7,3cm</text>
<rect x="647.4" y="849.0" width="49.2" height="49.5" fill="#f4868b"/>
<text x="672.0" y="884.5" font-family='"Liberation Sans", sans-serif' font-size="24.5" font-weight="bold" fill="#111" text-anchor="middle" textLength="28.0" lengthAdjust="spacingAndGlyphs">T4</text>
<text x="699.6" y="878.5" font-family='"Liberation Sans", sans-serif' font-size="18.0" font-weight="bold" fill="#0d0d0d" text-anchor="start" textLength="101.4" lengthAdjust="spacingAndGlyphs" stroke="#0d0d0d" stroke-width="1.10" stroke-linejoin="round">29,2cm x 7,3cm</text>
<rect x="647.4" y="898.5" width="49.2" height="49.0" fill="#7c1087"/>
<text x="672.0" y="934.2" font-family='"Liberation Sans", sans-serif' font-size="24.5" font-weight="bold" fill="#fff" text-anchor="middle" textLength="28.0" lengthAdjust="spacingAndGlyphs">T5</text>
<text x="700.0" y="930.3" font-family='"Liberation Sans", sans-serif' font-size="18.0" font-weight="bold" fill="#0d0d0d" text-anchor="start" textLength="104.0" lengthAdjust="spacingAndGlyphs" stroke="#0d0d0d" stroke-width="1.10" stroke-linejoin="round">14,6cm x 14,6cm</text>
<rect x="647.4" y="947.5" width="49.2" height="48.8" fill="#511c9f"/>
<text x="672.0" y="982.0" font-family='"Liberation Sans", sans-serif' font-size="24.5" font-weight="bold" fill="#fff" text-anchor="middle" textLength="28.0" lengthAdjust="spacingAndGlyphs">T6</text>
<text x="703.6" y="977.0" font-family='"Liberation Sans", sans-serif' font-size="18.0" font-weight="bold" fill="#0d0d0d" text-anchor="start" textLength="104.0" lengthAdjust="spacingAndGlyphs" stroke="#0d0d0d" stroke-width="1.10" stroke-linejoin="round">21,9cm x 14,6cm</text>
<rect x="810.4" y="849.0" width="49.2" height="49.5" fill="#20b2e0"/>
<text x="835.0" y="883.0" font-family='"Liberation Sans", sans-serif' font-size="24.5" font-weight="bold" fill="#fff" text-anchor="middle" textLength="28.0" lengthAdjust="spacingAndGlyphs">T7</text>
<text x="862.0" y="878.5" font-family='"Liberation Sans", sans-serif' font-size="18.0" font-weight="bold" fill="#0d0d0d" text-anchor="start" textLength="107.0" lengthAdjust="spacingAndGlyphs" stroke="#0d0d0d" stroke-width="1.10" stroke-linejoin="round">29,2cm x 14,6cm</text>
<rect x="810.4" y="898.5" width="49.2" height="49.0" fill="#387514"/>
<text x="835.0" y="933.5" font-family='"Liberation Sans", sans-serif' font-size="24.5" font-weight="bold" fill="#fff" text-anchor="middle" textLength="28.0" lengthAdjust="spacingAndGlyphs">T8</text>
<text x="865.0" y="930.3" font-family='"Liberation Sans", sans-serif' font-size="18.0" font-weight="bold" fill="#0d0d0d" text-anchor="start" textLength="106.6" lengthAdjust="spacingAndGlyphs" stroke="#0d0d0d" stroke-width="1.10" stroke-linejoin="round">36,5cm x 14,6cm</text>
<rect x="810.4" y="947.5" width="49.2" height="49.3" fill="#8df25a"/>
<text x="835.0" y="982.3" font-family='"Liberation Sans", sans-serif' font-size="24.5" font-weight="bold" fill="#fff" text-anchor="middle" textLength="28.0" lengthAdjust="spacingAndGlyphs">T9</text>
<text x="865.0" y="977.0" font-family='"Liberation Sans", sans-serif' font-size="18.0" font-weight="bold" fill="#0d0d0d" text-anchor="start" textLength="106.6" lengthAdjust="spacingAndGlyphs" stroke="#0d0d0d" stroke-width="1.10" stroke-linejoin="round">29,2cm x 21,9cm</text>
<g transform="rotate(-19.8 386.7 935.3)">
<rect x="309.7" y="930.3" width="18" height="11.5" fill="#fff" stroke="#111" stroke-width="3.6"/>
<path d="M 310.7 925.3 H 248.7 A 11 11 0 0 0 237.7 936.3 V 936.3 A 11 11 0 0 0 248.7 947.3 H 310.7 Z" fill="#fff" stroke="#111" stroke-width="3.6" stroke-linejoin="round"/>
<line x1="298.7" y1="925.3" x2="298.7" y2="947.3" stroke="#111" stroke-width="3.6"/>
</g>
<circle cx="386.7" cy="935.3" r="61.2" fill="#fff" stroke="#111" stroke-width="5.0"/>
<circle cx="386.7" cy="935.3" r="50" fill="#fff" stroke="#111" stroke-width="4.8"/>
<circle cx="386.2" cy="935.2" r="43.2" fill="#eef8f6" stroke="#666" stroke-width="0.8"/>
<text x="385.7" y="919.3" font-family='"Liberation Serif", serif' font-size="19.5" font-weight="normal" fill="#151515" text-anchor="middle" textLength="48.6" lengthAdjust="spacingAndGlyphs" stroke="#151515" stroke-width="0.45" stroke-linejoin="round">selo de</text>
<text x="385.7" y="942.1" font-family='"Liberation Serif", serif' font-size="19.5" font-weight="normal" fill="#151515" text-anchor="middle" textLength="67.6" lengthAdjust="spacingAndGlyphs" stroke="#151515" stroke-width="0.45" stroke-linejoin="round">altura do</text>
<text x="386.2" y="965.5" font-family='"Liberation Serif", serif' font-size="19.5" font-weight="normal" fill="#151515" text-anchor="middle" textLength="31.4" lengthAdjust="spacingAndGlyphs" stroke="#151515" stroke-width="0.45" stroke-linejoin="round">item</text>
<circle cx="50" cy="954.5" r="46" fill="#fbc80a"/>
<polygon points="0,966.5 48.2,987.5 49.5,987.5 49.5,1000 0,1000" fill="#fff"/>
<polygon points="48.2,939.5 60.1,984.5 69.2,984.5 81.8,951.6 81.8,987.5 100,987.5 100,1000 48.2,1000" fill="#fff"/>
<rect x="90.4" y="972" width="12" height="20" fill="#fff"/>
<polygon points="6.0,968.0 48.2,939.5 48.2,987.5" fill="#f1d46a"/>
<polygon points="6.0,968.0 48.2,939.5 48.2,942.0" fill="#222d84"/>
<polygon points="6.0,968.0 48.2,944.3 48.2,946.8" fill="#222d84"/>
<polygon points="6.0,968.0 48.2,949.1 48.2,951.6" fill="#222d84"/>
<polygon points="6.0,968.0 48.2,953.9 48.2,956.4" fill="#222d84"/>
<polygon points="6.0,968.0 48.2,958.7 48.2,961.2" fill="#222d84"/>
<polygon points="6.0,968.0 48.2,963.5 48.2,966.0" fill="#222d84"/>
<polygon points="6.0,968.0 48.2,968.3 48.2,970.8" fill="#222d84"/>
<polygon points="6.0,968.0 48.2,973.1 48.2,975.6" fill="#222d84"/>
<polygon points="6.0,968.0 48.2,977.9 48.2,980.4" fill="#222d84"/>
<polygon points="6.0,968.0 48.2,982.7 48.2,985.2" fill="#222d84"/>
<polygon points="6.0,968.0 48.2,985.5 48.2,987.8" fill="#222d84"/>
<polygon points="48.2,939.5 50.5,935.8 65.7,972.5 89.5,932.7 90.4,932.7 90.4,987.8 81.8,987.8 81.8,951.6 69.2,984.5 60.1,984.5" fill="#222d84"/>
<polygon points="81.8,986.6 136,987.4 136,988.2 81.8,988.8" fill="#222d84"/>
<text x="99.1" y="986.8" font-family='"Liberation Sans", sans-serif' font-size="30.0" font-weight="normal" fill="#222d84" text-anchor="middle" textLength="4.4" lengthAdjust="spacingAndGlyphs" stroke="#222d84" stroke-width="1.90" stroke-linejoin="round">I</text>
<text x="115.9" y="986.8" font-family='"Liberation Sans", sans-serif' font-size="30.0" font-weight="normal" fill="#222d84" text-anchor="middle" textLength="18.6" lengthAdjust="spacingAndGlyphs" stroke="#222d84" stroke-width="1.90" stroke-linejoin="round">R</text>
<text x="136.5" y="986.8" font-family='"Liberation Sans", sans-serif' font-size="30.0" font-weight="normal" fill="#222d84" text-anchor="middle" textLength="19.4" lengthAdjust="spacingAndGlyphs" stroke="#222d84" stroke-width="1.90" stroke-linejoin="round">A</text>
<text x="159.3" y="986.8" font-family='"Liberation Sans", sans-serif' font-size="30.0" font-weight="normal" fill="#222d84" text-anchor="middle" textLength="18.6" lengthAdjust="spacingAndGlyphs" stroke="#222d84" stroke-width="1.90" stroke-linejoin="round">C</text>
<text x="185.2" y="986.8" font-family='"Liberation Sans", sans-serif' font-size="30.0" font-weight="normal" fill="#222d84" text-anchor="middle" textLength="25.6" lengthAdjust="spacingAndGlyphs" stroke="#222d84" stroke-width="1.90" stroke-linejoin="round">O</text>
<text x="213.9" y="986.8" font-family='"Liberation Sans", sans-serif' font-size="30.0" font-weight="normal" fill="#222d84" text-anchor="middle" textLength="24.2" lengthAdjust="spacingAndGlyphs" stroke="#222d84" stroke-width="1.90" stroke-linejoin="round">M</text>
<line x1="98.6" y1="963.6" x2="102.2" y2="959.6" stroke="#222d84" stroke-width="1.6"/>
</svg>
</body></html>
